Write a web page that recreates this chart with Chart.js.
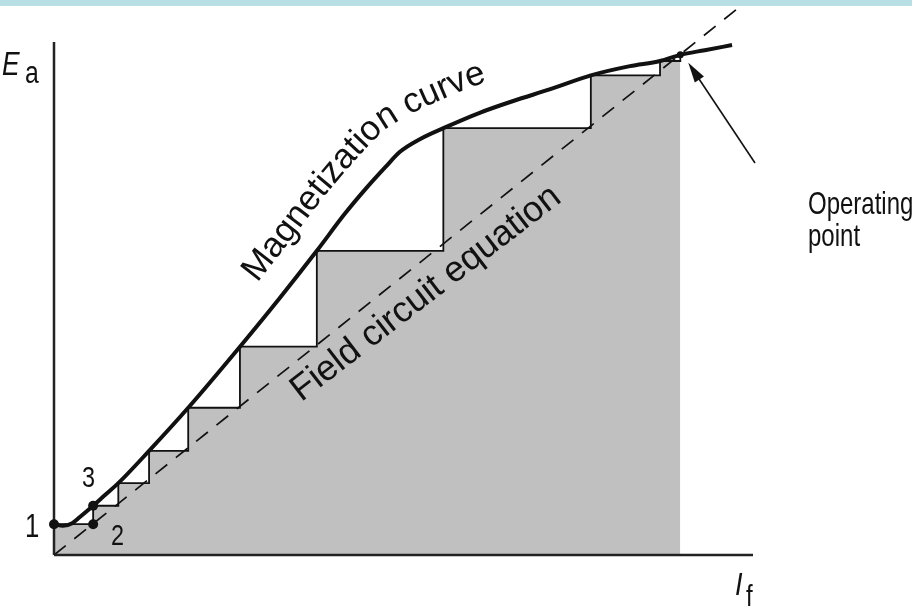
<!DOCTYPE html>
<html>
<head>
<meta charset="utf-8">
<title>Self-excited generator build-up</title>
<script src="https://cdn.jsdelivr.net/npm/chart.js@4.4.0/dist/chart.umd.min.js"></script>
<style>
  html, body { margin: 0; padding: 0; background: #fff; }
  #wrap { position: relative; width: 912px; height: 610px; }
  #band { position: absolute; left: 0; top: 0; width: 912px; height: 6px; background: #b8dfe3; }
</style>
</head>
<body>
<div id="wrap">
  <canvas id="c" width="912" height="610"></canvas>
  <div id="band"></div>
</div>
<script>
// both axes run 0..100 (per cent of the drawn axis length)

// magnetization curve Ea(If)
const curveIf = [0, 1.3, 2.6, 3.7, 5.6, 7.3, 9.2, 13.6, 19.2, 26.6, 32.3, 37.6, 41.6, 44.8, 47.4, 49.5, 52.4, 55.7, 60.9, 65.7, 71.0, 76.8, 82.4, 86.7, 89.6, 93.1, 97.0];
const curveEa = [6.0, 5.7, 6.2, 7.4, 9.6, 11.7, 14.0, 20.3, 28.7, 40.6, 50.1, 59.3, 66.5, 71.7, 75.6, 78.6, 81.1, 83.2, 86.2, 88.5, 90.8, 93.5, 95.3, 96.3, 97.5, 98.4, 99.4];

// field circuit equation (straight line through the origin)
const fieldIf = [0, 97.6];
const fieldEa = [0, 106.3];

// voltage build-up staircase, corners sit on the magnetization curve
const stepIf = [0, 5.6, 9.2, 13.6, 19.2, 26.6, 37.6, 55.7, 76.8, 86.7, 89.6];
const stepEa = [6.0, 9.6, 14.0, 20.3, 28.7, 40.6, 59.3, 83.2, 93.5, 96.3, 97.5];

// numbered start points
const markIf = [0, 5.6, 5.6];
const markEa = [6.0, 6.0, 9.6];
const markLabels = ['1', '2', '3'];

// operating point
const opIf = [89.6];
const opEa = [97.5];

const toPoints = (xs, ys) => xs.map((x, i) => ({ x, y: ys[i] }));

const FONT = '"Liberation Sans", Arial, Helvetica, sans-serif';

// upright labels use a condensed Helvetica look
function narrowText(ctx, text, x, y, size, squeeze, style) {
	ctx.save();
	ctx.font = `${style || ''} ${size}px ${FONT}`;
	ctx.textAlign = 'left';
	ctx.textBaseline = 'alphabetic';
	ctx.translate(x, y);
	ctx.scale(squeeze, 1);
	ctx.fillText(text, 0, 0);
	ctx.restore();
}

// polyline helpers for the curved label
function pathLengths(pts) {
	const cum = [0];
	for (let i = 1; i < pts.length; i++) {
		cum.push(cum[i - 1] + Math.hypot(pts[i].x - pts[i - 1].x, pts[i].y - pts[i - 1].y));
	}
	return cum;
}

function pointAt(pts, cum, s) {
	if (s <= 0) {
		const d = Math.hypot(pts[1].x - pts[0].x, pts[1].y - pts[0].y);
		return { x: pts[0].x + (pts[1].x - pts[0].x) * s / d, y: pts[0].y + (pts[1].y - pts[0].y) * s / d };
	}
	for (let i = 1; i < pts.length; i++) {
		if (cum[i] >= s) {
			const t = (s - cum[i - 1]) / (cum[i] - cum[i - 1]);
			return { x: pts[i - 1].x + (pts[i].x - pts[i - 1].x) * t, y: pts[i - 1].y + (pts[i].y - pts[i - 1].y) * t };
		}
	}
	const n = pts.length - 1;
	const d = Math.hypot(pts[n].x - pts[n - 1].x, pts[n].y - pts[n - 1].y);
	const over = s - cum[n];
	return { x: pts[n].x + (pts[n].x - pts[n - 1].x) * over / d, y: pts[n].y + (pts[n].y - pts[n - 1].y) * over / d };
}

function textAlongPath(ctx, text, pts, startX, size) {
	const cum = pathLengths(pts);
	let s = 0;
	while (s < cum[cum.length - 1] && pointAt(pts, cum, s).x < startX) s += 0.5;
	ctx.save();
	ctx.font = `${size}px ${FONT}`;
	ctx.textAlign = 'center';
	ctx.textBaseline = 'alphabetic';
	for (const ch of text) {
		const w = ctx.measureText(ch).width;
		const mid = s + w / 2;
		const p = pointAt(pts, cum, mid);
		const a = pointAt(pts, cum, mid - 10);
		const b = pointAt(pts, cum, mid + 10);
		ctx.save();
		ctx.translate(p.x, p.y);
		ctx.rotate(Math.atan2(b.y - a.y, b.x - a.x));
		ctx.fillText(ch, 0, 0);
		ctx.restore();
		s += w;
	}
	ctx.restore();
}

const labelsPlugin = {
	id: 'figureLabels',
	afterDatasetsDraw(chart) {
		const { ctx, scales: { x, y } } = chart;
		ctx.save();
		ctx.fillStyle = '#111';

		// axis names
		narrowText(ctx, 'E', 2, 75, 33, 0.8, 'italic');
		narrowText(ctx, 'a', 25, 83, 31, 0.8);
		narrowText(ctx, 'I', 735, 595, 32, 0.85, 'italic');
		narrowText(ctx, 'f', 746, 606, 30, 0.8);

		// start point numbers
		narrowText(ctx, markLabels[0], 25, 537, 33, 0.78);
		narrowText(ctx, markLabels[1], 111, 545, 30, 0.78);
		narrowText(ctx, markLabels[2], 82, 487, 30, 0.78);

		// operating point note and arrow
		narrowText(ctx, 'Operating', 808, 214, 32, 0.75);
		narrowText(ctx, 'point', 808, 246, 32, 0.75);

		const tipX = x.getPixelForValue(opIf[0]) + 8;
		const tipY = y.getPixelForValue(opEa[0]) + 8;
		const tailX = 755, tailY = 163;
		const ang = Math.atan2(tipY - tailY, tipX - tailX);
		ctx.strokeStyle = '#111';
		ctx.lineWidth = 1.6;
		ctx.beginPath();
		ctx.moveTo(tailX, tailY);
		ctx.lineTo(tipX - 14 * Math.cos(ang), tipY - 14 * Math.sin(ang));
		ctx.stroke();
		ctx.beginPath();
		ctx.moveTo(tipX, tipY);
		ctx.lineTo(tipX - 20 * Math.cos(ang) + 5.5 * Math.sin(ang), tipY - 20 * Math.sin(ang) - 5.5 * Math.cos(ang));
		ctx.lineTo(tipX - 20 * Math.cos(ang) - 5.5 * Math.sin(ang), tipY - 20 * Math.sin(ang) + 5.5 * Math.cos(ang));
		ctx.closePath();
		ctx.fill();

		// label under the dashed line
		const fx0 = 295, fy0 = 407, fx1 = 569, fy1 = 196;
		ctx.save();
		ctx.font = `36px ${FONT}`;
		ctx.textAlign = 'center';
		ctx.translate((fx0 + fx1) / 2, (fy0 + fy1) / 2);
		ctx.rotate(Math.atan2(fy1 - fy0, fx1 - fx0));
		ctx.fillText('Field circuit equation', 0, 0);
		ctx.restore();

		// label riding above the magnetization curve
		const raw = curveIf.map((v, i) => ({ x: x.getPixelForValue(v), y: y.getPixelForValue(curveEa[i]) }));
		const gap = 27;
		const offset = raw.map((p, i) => {
			const a = raw[Math.max(0, i - 1)], b = raw[Math.min(raw.length - 1, i + 1)];
			const len = Math.hypot(b.x - a.x, b.y - a.y);
			const tx = (b.x - a.x) / len, ty = (b.y - a.y) / len;
			return { x: p.x + ty * gap, y: p.y - tx * gap };
		});
		textAlongPath(ctx, 'Magnetization curve', offset.slice(6), 257, 35);

		ctx.restore();
	}
};

new Chart(document.getElementById('c'), {
	type: 'scatter',
	data: {
		datasets: [
			{
				label: 'operating point',
				data: toPoints(opIf, opEa),
				pointRadius: 3.5,
				pointBackgroundColor: '#111',
				pointBorderWidth: 0,
				showLine: false,
				clip: false,
				order: 0,
			},
			{
				label: 'start points',
				data: toPoints(markIf, markEa),
				pointRadius: 5,
				pointBackgroundColor: '#111',
				pointBorderWidth: 0,
				showLine: false,
				clip: false,
				order: 0,
			},
			{
				label: 'magnetization curve',
				data: toPoints(curveIf, curveEa),
				showLine: true,
				borderColor: '#111',
				borderWidth: 4,
				cubicInterpolationMode: 'monotone',
				pointRadius: 0,
				clip: false,
				order: 1,
			},
			{
				label: 'If axis',
				data: [{ x: 0, y: 0 }, { x: 100, y: 0 }],
				showLine: true,
				borderColor: '#222',
				borderWidth: 2.5,
				pointRadius: 0,
				clip: false,
				order: 2,
			},
			{
				label: 'Ea axis',
				data: [{ x: 0, y: 0 }, { x: 0, y: 100 }],
				showLine: true,
				borderColor: '#222',
				borderWidth: 2.5,
				pointRadius: 0,
				clip: false,
				order: 2,
			},
			{
				label: 'field circuit equation',
				data: toPoints(fieldIf, fieldEa),
				showLine: true,
				borderColor: '#111',
				borderWidth: 1.7,
				borderDash: [15, 11],
				pointRadius: 0,
				clip: false,
				order: 3,
			},
			{
				label: 'build-up steps',
				data: toPoints(stepIf, stepEa),
				showLine: true,
				stepped: true,
				borderColor: '#111',
				borderWidth: 1.8,
				backgroundColor: '#c0c0c0',
				fill: 'origin',
				pointRadius: 0,
				clip: false,
				order: 4,
			},
		]
	},
	options: {
		responsive: false,
		devicePixelRatio: 1,
		animation: false,
		layout: { padding: { left: 54, right: 159, top: 42, bottom: 55 } },
		scales: {
			x: { type: 'linear', min: 0, max: 100, display: false },
			y: { type: 'linear', min: 0, max: 100, display: false },
		},
		plugins: {
			legend: { display: false },
			tooltip: { enabled: false },
		},
	},
	plugins: [labelsPlugin],
});
</script>
</body>
</html>
